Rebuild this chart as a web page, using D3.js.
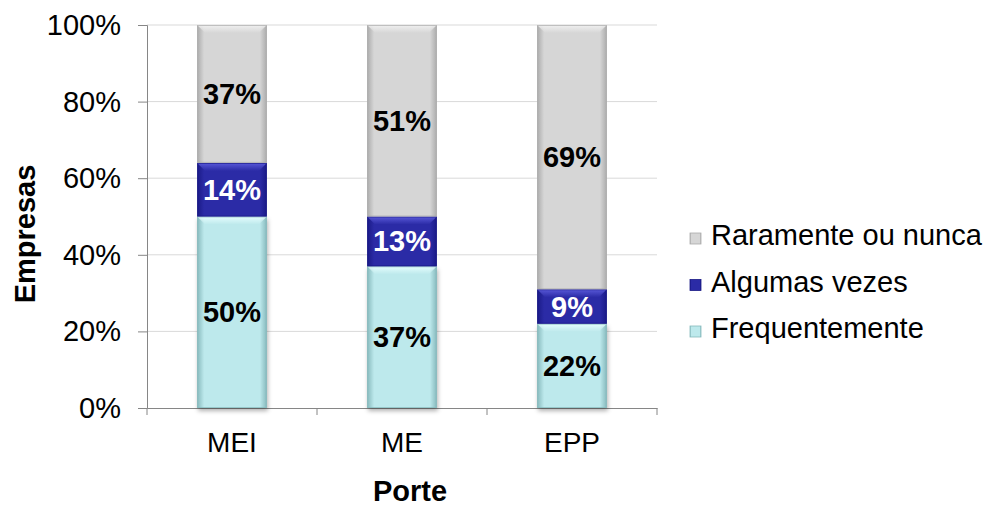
<!DOCTYPE html>
<html><head><meta charset="utf-8">
<script src="https://cdn.jsdelivr.net/npm/d3@7"></script>
<style>body{margin:0;background:#fff}svg{display:block;font-family:"Liberation Sans",Arial,sans-serif}</style>
</head><body>
<svg id="c" width="988" height="512"></svg>
<script>
const categories = ["MEI", "ME", "EPP"];
const seriesNames = ["Frequentemente", "Algumas vezes", "Raramente ou nunca"];
const frequentemente = [50, 37, 22];
const algumasVezes = [14, 13, 9];
const raramente = [37, 51, 69];
const yTicks = [0, 20, 40, 60, 80, 100];

const FS = 29;
const svg = d3.select("#c");
const m = {l: 147, r: 657, t: 25, b: 408};
const x = d3.scaleBand().domain(categories).range([m.l, m.r]).paddingInner(0.59).paddingOuter(0.295);
const y = d3.scaleLinear().domain([0, 100]).range([m.b, m.t]);

const defs = svg.append("defs");
const cols = [
  {id: "g0", edge: "#86b9bc", mid: "#bde9ec", light: "#e8ffff"},
  {id: "g1", edge: "#1a1a86", mid: "#2b2ba6", light: "#5c5cdc"},
  {id: "g2", edge: "#ababab", mid: "#d6d6d6", light: "#f2f2f2"}
];
cols.forEach(c => {
  const g = defs.append("linearGradient").attr("id", c.id).attr("x1", 0).attr("x2", 1).attr("y1", 0).attr("y2", 0);
  g.append("stop").attr("offset", 0).attr("stop-color", c.edge);
  g.append("stop").attr("offset", 0.1).attr("stop-color", c.mid);
  g.append("stop").attr("offset", 0.9).attr("stop-color", c.mid);
  g.append("stop").attr("offset", 1).attr("stop-color", c.edge);
  const v = defs.append("linearGradient").attr("id", c.id + "v").attr("x1", 0).attr("x2", 0).attr("y1", 0).attr("y2", 1);
  v.append("stop").attr("offset", 0).attr("stop-color", c.light).attr("stop-opacity", 0.95);
  v.append("stop").attr("offset", 1).attr("stop-color", c.light).attr("stop-opacity", 0);
});
const f = defs.append("filter").attr("id", "sh").attr("x", -0.2).attr("y", -0.2).attr("width", 1.4).attr("height", 1.4);
f.append("feDropShadow").attr("dx", 1).attr("dy", 3).attr("stdDeviation", 2).attr("flood-color", "#000").attr("flood-opacity", 0.3);

// grid
svg.append("g").selectAll("line").data(yTicks.slice(1)).join("line")
  .attr("x1", m.l).attr("x2", m.r).attr("y1", d => y(d)).attr("y2", d => y(d))
  .attr("stroke", "#d9d9d9").attr("stroke-width", 1);

// axes
const ya = svg.append("g").attr("transform", `translate(${m.l},0)`)
  .call(d3.axisLeft(y).tickValues(yTicks).tickFormat(d => d + "%").tickSize(9).tickPadding(17));
const xa = svg.append("g").attr("transform", `translate(0,${m.b})`)
  .call(d3.axisBottom(x).tickSize(0).tickPadding(24));
[ya, xa].forEach(a => {
  a.select(".domain").attr("stroke", "#868686");
  a.selectAll(".tick line").attr("stroke", "#868686");
  a.selectAll("text").attr("font-size", FS).attr("fill", "#000").attr("font-family", "Liberation Sans, Arial, sans-serif");
});
xa.selectAll("text").attr("font-size", 28);
ya.selectAll("text").attr("dy", "0.33em");
// x ticks at band boundaries
const bounds = [m.l, ...categories.map(c => x(c) + x.bandwidth() / 2 + x.step() / 2)];
svg.append("g").selectAll("line").data(bounds).join("line")
  .attr("x1", d => d).attr("x2", d => d).attr("y1", m.b).attr("y2", m.b + 7).attr("stroke", "#868686");

// stack
const rows = categories.map((c, i) => ({cat: c, s0: frequentemente[i], s1: algumasVezes[i], s2: raramente[i]}));
const stack = d3.stack().keys(["s0", "s1", "s2"]);
const layers = stack(rows);
const bw = x.bandwidth();
layers.forEach((layer, li) => {
  const g = svg.append("g");
  layer.forEach((d, i) => {
    const top = y(Math.min(100, d[1])), bot = y(d[0]);
    const x0 = x(categories[i]);
    const h = bot - top;
    const gg = g.append("g");
    gg.append("rect").attr("x", x0).attr("y", top).attr("width", bw).attr("height", h)
      .attr("fill", `url(#g${li})`).attr("filter", li === 0 ? "url(#sh)" : null);
    const bv = Math.min(8, h / 3);
    gg.append("path").attr("d", `M${x0},${top} L${x0 + bw},${top} L${x0 + bw - bv},${top + bv} L${x0 + bv},${top + bv} Z`)
      .attr("fill", `url(#g${li}v)`);
    gg.append("rect").attr("x", x0 + 0.5).attr("y", top + 0.5).attr("width", bw - 1).attr("height", h - 1)
      .attr("fill", "none").attr("stroke", cols[li].edge).attr("stroke-width", 1).attr("stroke-opacity", 0.7);
    const val = [frequentemente, algumasVezes, raramente][li][i];
    gg.append("text").attr("x", x0 + bw / 2).attr("y", (top + bot) / 2 + 10)
      .attr("text-anchor", "middle").attr("font-size", FS).attr("font-weight", "bold")
      .attr("fill", li === 1 ? "#fff" : "#000").text(val + "%");
  });
});

// axis titles
svg.append("text").attr("x", 410).attr("y", 501).attr("text-anchor", "middle")
  .attr("font-size", FS).attr("font-weight", "bold").text("Porte");
svg.append("text").attr("transform", `translate(35,234) rotate(-90)`).attr("text-anchor", "middle")
  .attr("font-size", FS).attr("font-weight", "bold").text("Empresas");

// legend
const legendItems = [2, 1, 0];
const lg = svg.append("g");
legendItems.forEach((li, k) => {
  const base = 245 + k * 46.5;
  lg.append("rect").attr("x", 690).attr("y", base - 12).attr("width", 11).attr("height", 11).attr("fill", `url(#g${li})`)
    .attr("stroke", cols[li].edge).attr("stroke-width", 0.8);
  lg.append("text").attr("x", 711).attr("y", base).attr("font-size", FS).attr("fill", "#000").text(seriesNames[li]);
});
</script>
</body></html>
